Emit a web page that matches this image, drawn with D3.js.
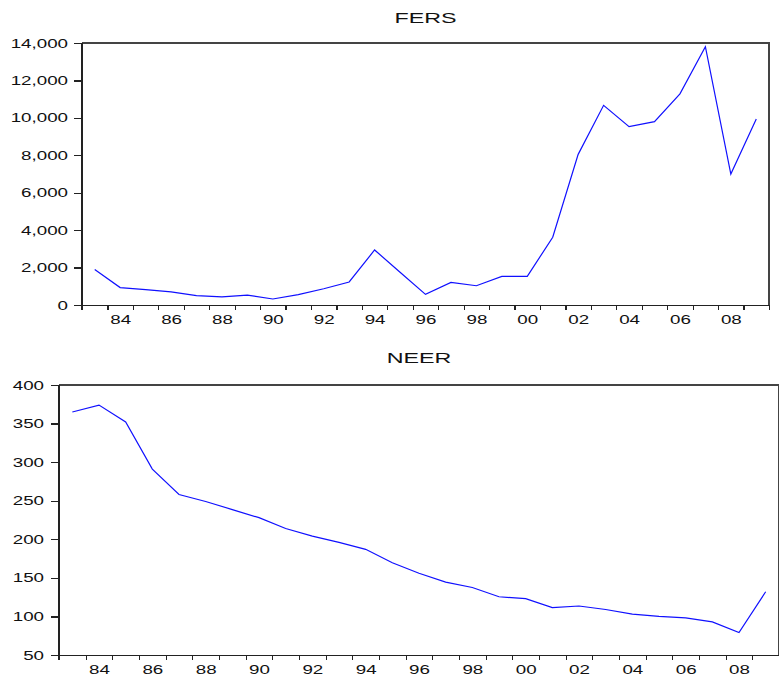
<!DOCTYPE html>
<meta charset="utf-8">
<style>

body {
  margin: 0;
  background: #fff;
}

.axis text {
  font: 12.5px "Liberation Sans", Arial, sans-serif;
  fill: #111;
}

.axis path,
.axis line {
  stroke: #222;
  stroke-width: 1.3;
  shape-rendering: crispEdges;
}

.frame {
  fill: none;
  stroke: #444;
  stroke-width: 1.3;
  shape-rendering: crispEdges;
}

.title {
  font: 15.5px "Liberation Sans", Arial, sans-serif;
  fill: #111;
  text-anchor: middle;
}

.series {
  fill: none;
  stroke: #1010ff;
  stroke-width: 1.2;
}

</style>
<svg width="779" height="677"></svg>
<script src="https://d3js.org/d3.v7.min.js"></script>
<script>

var years = d3.range(1983, 2010);

var fers = [1900, 930, 820, 700, 500, 430, 530, 320, 550, 870, 1230, 2940, 1750, 570,
    1210, 1030, 1530, 1530, 3620, 8050, 10670, 9530, 9800, 11280, 13800, 7000, 9940];

var neer = [365, 374, 352, 291, 258, 249, 238.5, 228, 214, 204, 196, 187, 169.5, 156,
    144.5, 137.5, 125.5, 123, 111.5, 113.5, 109, 103, 100, 98, 93, 79, 132];

var fersTicks = d3.range(0, 14001, 2000),
    neerTicks = d3.range(50, 401, 50);

var svg = d3.select("svg");

var formatYear = function(d) { return d3.format("02d")(Math.floor(d) % 100); };

function panel(opts) {
  var x = d3.scaleLinear()
      .domain([years[0], years[years.length - 1] + 1])
      .range([opts.left, opts.right]);

  var y = d3.scaleLinear()
      .domain(opts.domain)
      .range([opts.bottom, opts.top]);

  var g = svg.append("g");

  g.append("text")
      .attr("class", "title")
      .attr("x", (opts.left + opts.right) / 2)
      .attr("y", opts.titleY)
      .text(opts.title);

  // top and right border
  g.append("path")
      .attr("class", "frame")
      .attr("d", "M" + opts.left + "," + opts.top + "H" + opts.right + "V" + opts.bottom);

  // year boundary ticks
  g.append("g")
      .attr("class", "axis")
      .attr("transform", "translate(0," + opts.bottom + ")")
      .call(d3.axisBottom(x).tickValues(d3.range(years[0], years[years.length - 1] + 2))
          .tickSize(5).tickSizeOuter(0).tickFormat(""));

  // year labels centred in each band
  g.append("g")
      .attr("class", "axis labels")
      .attr("transform", "translate(0," + opts.bottom + ")")
      .call(d3.axisBottom(x).tickValues(years.filter(function(d) { return d % 2 === 0; }).map(function(d) { return d + 0.5; }))
          .tickSize(0).tickPadding(10).tickFormat(formatYear))
      .call(function(a) { a.select(".domain").remove(); });

  g.append("g")
      .attr("class", "axis")
      .attr("transform", "translate(" + opts.left + ",0)")
      .call(d3.axisLeft(y).tickValues(opts.ticks).tickSize(8).tickSizeOuter(0)
          .tickPadding(opts.pad).tickFormat(opts.format))
      .call(function(a) { a.select(".domain").attr("d", "M0," + opts.top + "V" + (opts.bottom + 5)); });

  var line = d3.line()
      .x(function(d, i) { return x(years[i] + 0.5); })
      .y(function(d) { return y(d); });

  g.append("path")
      .datum(opts.values)
      .attr("class", "series")
      .attr("d", line);
}

panel({
  title: "FERS", titleY: 22.5,
  left: 82, right: 769, top: 43, bottom: 305,
  domain: [0, 14000], ticks: fersTicks, format: d3.format(","), pad: 6,
  values: fers
});

panel({
  title: "NEER", titleY: 362.5,
  left: 59, right: 779, top: 385, bottom: 655,
  domain: [50, 400], ticks: neerTicks, format: d3.format("d"), pad: 7,
  values: neer
});

// the original glyphs are drawn wide, stretch the text to match
svg.selectAll("text").each(function() {
  var t = d3.select(this), w = this.getComputedTextLength();
  if (w > 0) t.attr("textLength", w * 1.5).attr("lengthAdjust", "spacingAndGlyphs");
});

</script>
